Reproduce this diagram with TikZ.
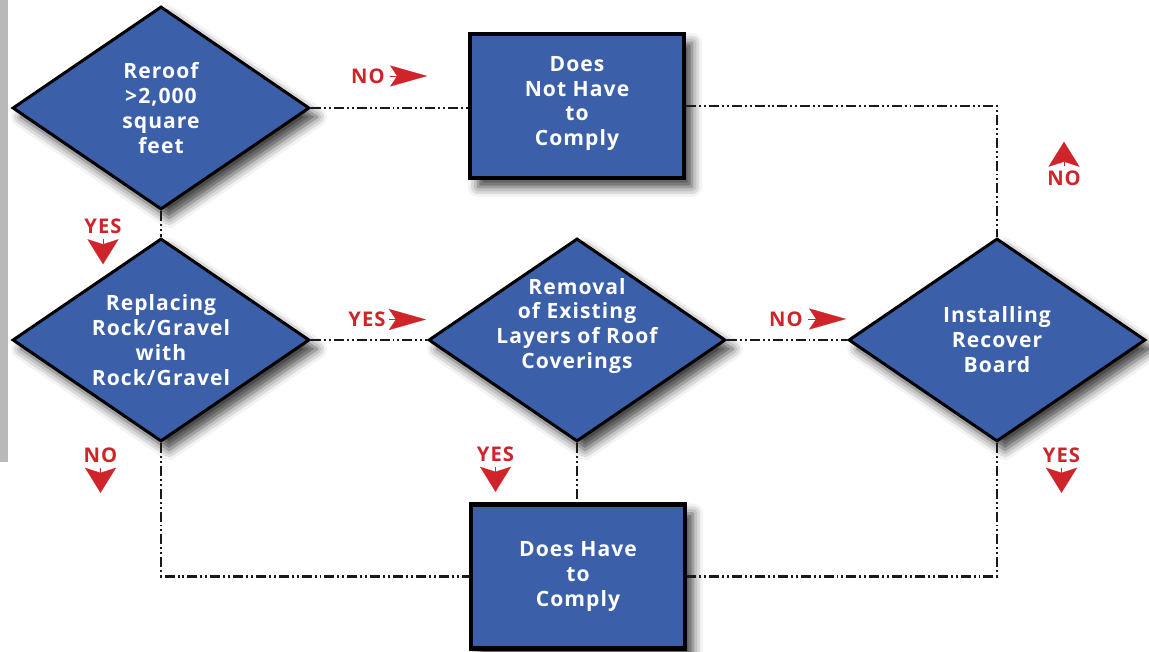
\documentclass[tikz,border=0pt]{standalone}
\usepackage{fontspec}
\setmainfont{Open Sans}
\newfontfamily\chartfont[LetterSpace=5]{Open Sans}
\usepackage{tikz}
\usetikzlibrary{shapes.geometric,arrows.meta,positioning,shadows.blur}
\definecolor{chartBlue}{RGB}{59,95,169}
\definecolor{markRed}{RGB}{206,36,42}
\definecolor{lineDark}{RGB}{25,25,25}
\tikzset{
  decision/.style={diamond,draw=black,line width=1.7pt,fill=chartBlue,inner sep=0pt,
                   minimum width=5.94cm,minimum height=4.06cm,
                   blur shadow={shadow xshift=0.16cm,shadow yshift=-0.18cm,shadow blur radius=0.2cm,shadow opacity=75}},
  result/.style={rectangle,draw=black,line width=2.3pt,fill=chartBlue,inner sep=0pt,
                 minimum width=4.28cm,minimum height=2.88cm,
                 font=\chartfont\bfseries\fontsize{12}{14.2}\selectfont,text=white,align=center,
                 blur shadow={shadow xshift=0.16cm,shadow yshift=-0.18cm,shadow blur radius=0.2cm,shadow opacity=75}},
  dtext/.style={font=\chartfont\bfseries\fontsize{12}{14.2}\selectfont,text=white,align=center},
  flow/.style={draw=lineDark,line width=1.3pt,
               dash pattern=on 5.7pt off 1.7pt on 1.1pt off 1.7pt on 1.1pt off 1.7pt},
  tag/.style={font=\chartfont\bfseries\fontsize{11.5}{13}\selectfont,text=markRed,inner sep=0pt},
  rtip/.style={markRed,line width=0.1pt,-{Stealth[length=0.74cm,width=0.42cm,inset=0.14cm]}},
  dtip/.style={markRed,line width=0.1pt,-{Stealth[length=0.5cm,width=0.62cm,inset=0.1cm]}},
}
\begin{document}
\begin{tikzpicture}
  \useasboundingbox (0,0) rectangle (22.98,13.02);
  \fill[gray!55] (0,13.02) rectangle (0.16,3.78);

  \node[decision,label={[dtext]center:{Reroof\\>2,000\\square\\feet}}]                      (reroof)  at (3.22,10.86) {};
  \node[decision,label={[dtext]center:{Replacing\\Rock/Gravel\\with\\Rock/Gravel}}]          (replace) at (3.22,6.22)  {};
  \node[decision,label={[dtext,yshift=0.28cm]center:{Removal\\of Existing\\Layers of Roof\\Coverings}}] (removal) at (11.54,6.22) {};
  \node[decision,label={[dtext]center:{Installing\\Recover\\Board}}]                         (recover) at (19.94,6.22) {};
  \node[result,text depth=0.2cm] (notcomply) at (11.54,10.9) {Does\\Not Have\\to\\Comply};
  \node[result]                  (comply)    at (11.56,1.49) {Does Have\\to\\Comply};

  \draw[flow](reroof.east)  -- (reroof.east -| notcomply.west);
  \draw[flow](notcomply.east) -| (recover.north);
  \draw[flow](reroof.south) -- (replace.north);
  \draw[flow](replace.east) -- (removal.west);
  \draw[flow](removal.east) -- (recover.west);
  \draw[flow](replace.south) |- (comply.west);
  \draw[flow](removal.south) -- (removal.south |- comply.north);
  \draw[flow](recover.south) |- (comply.east);

  \node[tag] (no1)  at (7.36,11.5)  {NO};
  \node[tag] (yes1) at (2.06,8.49)  {YES};
  \node[tag] (yes2) at (7.34,6.63)  {YES};
  \node[tag] (no2)  at (15.72,6.64) {NO};
  \node[tag] (no3)  at (2.01,3.92)  {NO};
  \node[tag] (yes3) at (9.91,3.94)  {YES};
  \node[tag] (no4)  at (21.28,9.45) {NO};
  \node[tag] (yes4) at (21.23,3.92) {YES};

  \draw[rtip]([xshift=0.1cm]no1.east)  -- ++(0.74,0);
  \draw[rtip]([xshift=0.06cm]yes2.east) -- ++(0.74,0);
  \draw[rtip]([xshift=0.1cm]no2.east)  -- ++(0.76,0);
  \draw[dtip]([yshift=-0.1cm]yes1.south) -- ++(0,-0.5);
  \draw[dtip]([yshift=-0.1cm]no3.south)  -- ++(0,-0.5);
  \draw[dtip]([yshift=-0.1cm]yes3.south) -- ++(0,-0.5);
  \draw[dtip]([yshift=-0.1cm]yes4.south) -- ++(0,-0.5);
  \draw[dtip]([yshift=0.1cm]no4.north)   -- ++(0,0.48);
\end{tikzpicture}
\end{document}
